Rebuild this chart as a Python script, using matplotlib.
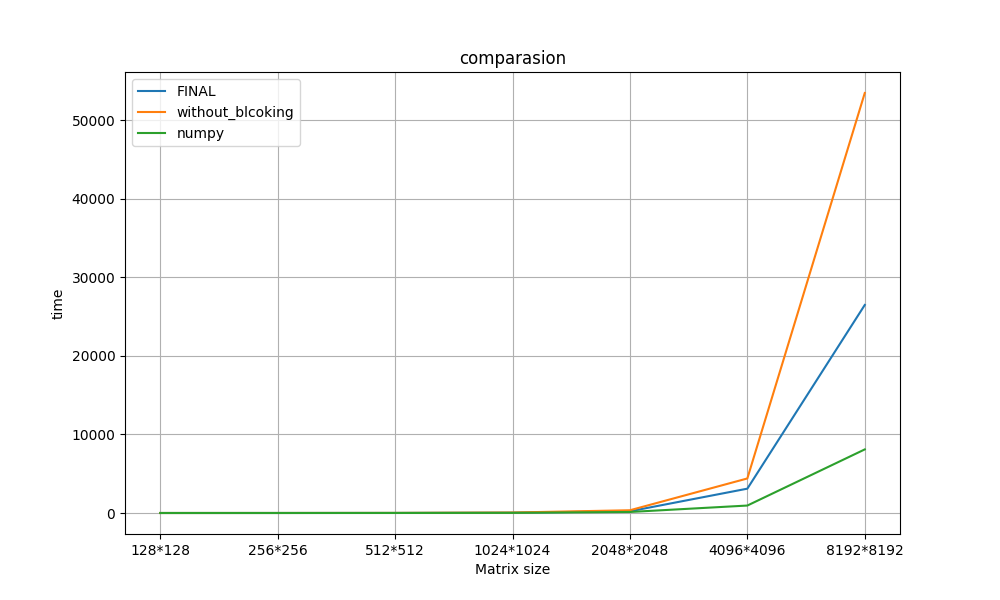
import matplotlib
matplotlib.use("Agg")
import matplotlib.pyplot as plt

sizes = ["128*128", "256*256", "512*512", "1024*1024", "2048*2048", "4096*4096", "8192*8192"]
final = [0.5, 2, 8, 40, 220, 3100, 26500]
without_blocking = [0.6, 3, 12, 60, 350, 4400, 53500]
numpy_times = [0.2, 1, 4, 20, 130, 950, 8100]

fig, ax = plt.subplots(figsize=(10, 6), dpi=100)
ax.plot(sizes, final, label="FINAL")
ax.plot(sizes, without_blocking, label="without_blcoking")
ax.plot(sizes, numpy_times, label="numpy")
ax.set_title("comparasion")
ax.set_xlabel("Matrix size")
ax.set_ylabel("time")
ax.grid(True)
ax.legend(loc="upper left")
fig.savefig("out.png")
